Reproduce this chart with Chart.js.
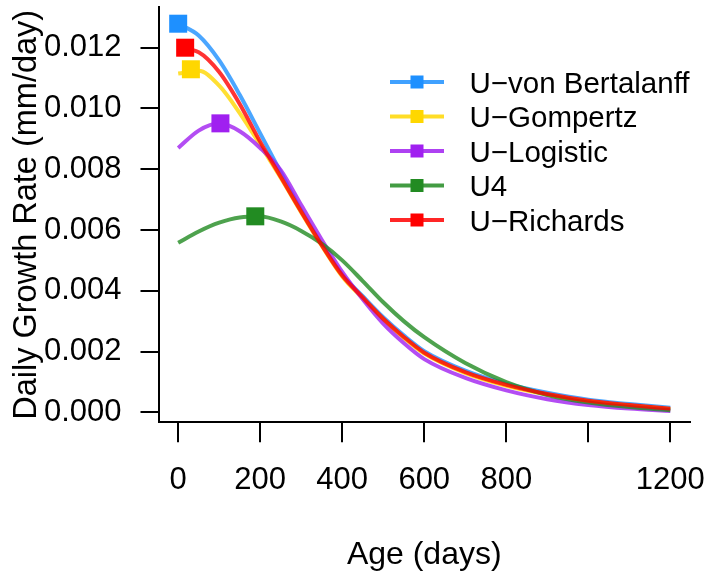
<!DOCTYPE html>
<html><head><meta charset="utf-8">
<script src="https://cdn.jsdelivr.net/npm/chart.js@4.4.1/dist/chart.umd.min.js"></script>
<style>html,body{margin:0;padding:0;background:#fff}#wrap{width:707px;height:578px;position:relative}</style>
</head><body><div id="wrap"><canvas id="c"></canvas></div>
<script>
// ---- data ----
const ages = [0,50,100,150,200,250,300,350,400,450,500,550,600,700,800,900,1000,1100,1200];
const seriesNames = ["U\u2212von Bertalanffy","U\u2212Gompertz","U\u2212Logistic","U4","U\u2212Richards"];
const seriesColors = ["30,144,255","255,215,0","160,32,240","34,139,34","255,0,0"];
const rateVonBertalanffy = [0.01279,0.01240,0.01158,0.01045,0.00918,0.00790,0.00664,0.00553,0.00453,0.00382,0.00313,0.00253,0.00201,0.00137,0.00094,0.00064,0.00041,0.00027,0.00015];
const rateGompertz       = [0.01115,0.01124,0.01075,0.00985,0.00880,0.00772,0.00658,0.00548,0.00447,0.00375,0.00305,0.00245,0.00193,0.00129,0.00087,0.00058,0.00036,0.00022,0.00011];
const rateLogistic       = [0.00870,0.00927,0.00951,0.00925,0.00870,0.00797,0.00682,0.00568,0.00462,0.00372,0.00292,0.00228,0.00175,0.00113,0.00072,0.00043,0.00024,0.00012,0.00004];
const rateU4             = [0.00558,0.00595,0.00624,0.00641,0.00644,0.00628,0.00597,0.00555,0.00500,0.00432,0.00362,0.00300,0.00247,0.00162,0.00099,0.00057,0.00032,0.00017,0.00007];
const rateRichards       = [0.01198,0.01185,0.01120,0.01015,0.00890,0.00775,0.00660,0.00550,0.00450,0.00378,0.00308,0.00248,0.00196,0.00132,0.00090,0.00060,0.00038,0.00024,0.00012];
const peakAges  = [0,31,103,188,17];
const peakRates = [0.01279,0.01129,0.00951,0.00645,0.01200];
const xTickValues = [0,200,400,600,800,1000,1200];
const xTickLabels = ["0","200","400","600","800","","1200"];
const yTickValues = [0,0.002,0.004,0.006,0.008,0.010,0.012];
const yTickLabels = ["0.000","0.002","0.004","0.006","0.008","0.010","0.012"];
const xTitle = "Age (days)";
const yTitle = "Daily Growth Rate (mm/day)";

// ---- build datasets ----
const allRates = [rateVonBertalanffy, rateGompertz, rateLogistic, rateU4, rateRichards];
const drawOrder = [4,3,2,1,0]; // red on top
const datasets = [];
allRates.forEach((r,i)=>{
  datasets.push({
    type:'line', label: seriesNames[i],
    data: ages.map((a,k)=>({x:a,y:r[k]})),
    borderColor: 'rgba('+seriesColors[i]+',0.8)', borderWidth: 4,
    pointRadius: 0, fill:false, cubicInterpolationMode:'monotone',
    order: drawOrder[i], clip: false
  });
});
allRates.forEach((r,i)=>{
  datasets.push({
    type:'scatter', label: seriesNames[i]+' max',
    data: [{x:peakAges[i], y:peakRates[i]}],
    pointStyle:'rect', pointRadius: 12.73, pointBorderWidth:0,
    backgroundColor:'rgb('+seriesColors[i]+')', borderColor:'rgb('+seriesColors[i]+')', borderWidth:0,
    showLine:false, order:-1, clip: false
  });
});

const FONT = "'Liberation Sans', Arial, Helvetica, sans-serif";

const legendPlugin = {
  id:'rLegend',
  afterDraw(chart){
    const ctx = chart.ctx;
    ctx.save();
    ctx.beginPath(); ctx.rect(0,0,690,578); ctx.clip();
    seriesNames.forEach((name,i)=>{
      const y = 82 + i*34.5;
      ctx.strokeStyle = 'rgba('+seriesColors[i]+',0.85)';
      ctx.lineWidth = 4; ctx.lineCap='butt';
      ctx.beginPath(); ctx.moveTo(390,y); ctx.lineTo(444,y); ctx.stroke();
      ctx.fillStyle = 'rgb('+seriesColors[i]+')';
      ctx.fillRect(417-6.5, y-6.5, 13, 13);
      ctx.fillStyle = '#000';
      ctx.font = "29.5px " + FONT;
      ctx.textBaseline = 'alphabetic'; ctx.textAlign='left';
      ctx.fillText(name, 469.5, y + 10.5);
    });
    ctx.restore();
  }
};

function zeroPad(s){ s.paddingLeft=0; s.paddingRight=0; s.paddingTop=0; s.paddingBottom=0; }

new Chart(document.getElementById('c'), {
  data: { datasets },
  options: {
    responsive:true, maintainAspectRatio:false, animation:false,
    layout:{ autoPadding:false, padding:{ top:7.3, right:17, left:0, bottom:0 } },
    plugins:{ legend:{display:false}, tooltip:{enabled:false} },
    scales:{
      x:{
        type:'linear', min:-48, max:1248,
        afterBuildTicks(s){ s.ticks = xTickValues.map(v=>({value:v})); },
        afterFit(s){ s.height = 578 - 422.3; zeroPad(s); },
        ticks:{ autoSkip:false, maxRotation:0, minRotation:0, padding:20, color:'#000',
          font:{ size:31, family:FONT },
          callback:(v)=>{ const k = xTickValues.indexOf(v); return k>=0 ? xTickLabels[k] : ''; } },
        grid:{ display:true, drawOnChartArea:false, drawTicks:true, tickLength:20, lineWidth:2, color:'#000', tickColor:'#000' },
        border:{ display:true, color:'#000', width:2 },
        title:{ display:true, text:xTitle, color:'#000', font:{ size:32, family:FONT }, padding:{top:0,bottom:3.5} }
      },
      y:{
        type:'linear', min:-0.00033, max:0.01333,
        afterBuildTicks(s){ s.ticks = yTickValues.map(v=>({value:v})); },
        afterFit(s){ s.width = 158.5; zeroPad(s); },
        ticks:{ autoSkip:false, padding:19, color:'#000',
          font:{ size:31, family:FONT },
          callback:(v)=>{ const k = yTickValues.findIndex(t=>Math.abs(t-v)<1e-9); return k>=0 ? yTickLabels[k] : ''; } },
        grid:{ display:true, drawOnChartArea:false, drawTicks:true, tickLength:18, lineWidth:2, color:'#000', tickColor:'#000' },
        border:{ display:true, color:'#000', width:2 },
        title:{ display:true, text:yTitle, color:'#000', font:{ size:32.5, family:FONT }, padding:{top:8,bottom:0} }
      }
    }
  },
  plugins:[legendPlugin]
});
</script>
</body></html>
